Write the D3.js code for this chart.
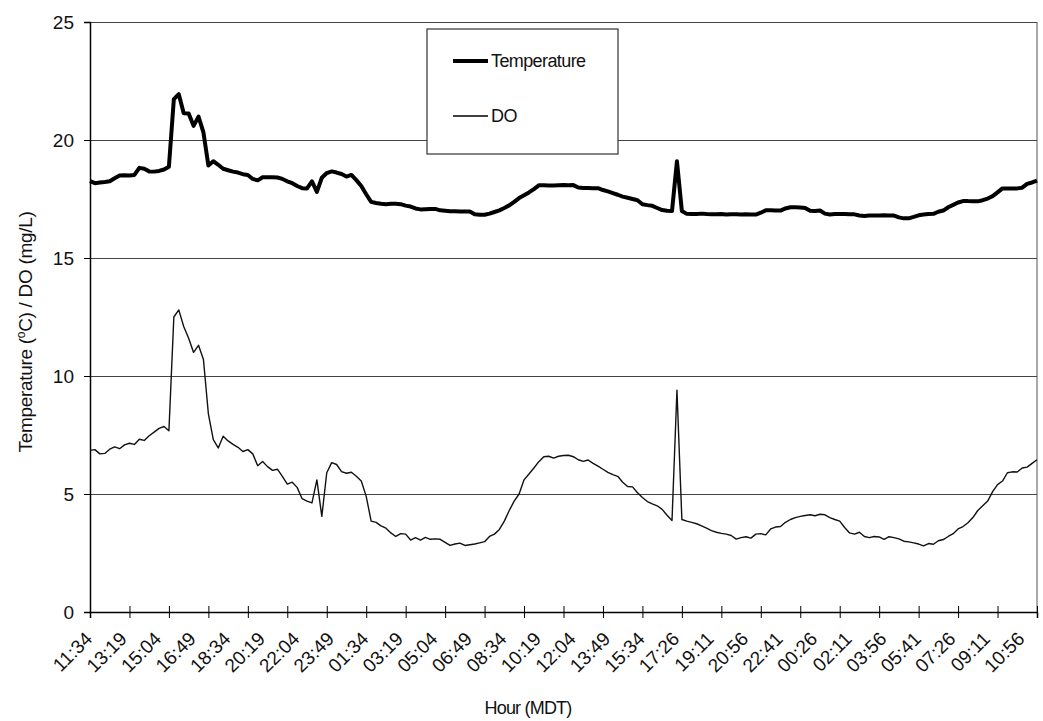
<!DOCTYPE html>
<html>
<head>
	<meta charset="utf-8">
	<title>Temperature / DO</title>
	<script type="text/javascript" src="https://cdn.jsdelivr.net/npm/d3@7"></script>
	<style>
		body { margin: 0; background: #fff; }
		text { font-family: "Liberation Sans", Arial, sans-serif; fill: #111; }
	</style>
</head>
<body>
	<script type="text/javascript">
		var width = 1043,
			height = 721;

		// tick labels, one every 7 readings
		var hourLabels = ['11:34','13:19','15:04','16:49','18:34','20:19','22:04','23:49','01:34','03:19',
			'05:04','06:49','08:34','10:19','12:04','13:49','15:34','17:26','19:11','20:56',
			'22:41','00:26','02:11','03:56','05:41','07:26','09:11','10:56'];
		var yTicks = [0, 5, 10, 15, 20, 25];

		var temperature = [
			18.26,18.17,18.2,18.22,18.25,18.38,18.5,18.51,18.5,18.52,
			18.82,18.78,18.67,18.66,18.69,18.75,18.87,21.73,21.94,21.13,
			21.12,20.6,20.99,20.32,18.92,19.1,18.95,18.78,18.72,18.66,
			18.62,18.55,18.52,18.35,18.29,18.42,18.42,18.42,18.41,18.35,
			18.25,18.17,18.05,17.96,17.95,18.25,17.8,18.4,18.6,18.67,
			18.62,18.56,18.45,18.52,18.3,18.05,17.7,17.38,17.33,17.3,
			17.28,17.3,17.3,17.28,17.22,17.18,17.1,17.06,17.07,17.08,
			17.08,17.02,17.0,16.98,16.98,16.97,16.97,16.97,16.85,16.83,
			16.83,16.88,16.95,17.02,17.12,17.23,17.38,17.54,17.66,17.78,
			17.92,18.08,18.08,18.07,18.07,18.08,18.09,18.08,18.09,17.99,
			17.97,17.97,17.96,17.96,17.88,17.82,17.75,17.68,17.6,17.55,
			17.5,17.45,17.28,17.24,17.21,17.12,17.03,17.0,16.99,19.1,
			16.99,16.87,16.86,16.86,16.88,16.86,16.85,16.85,16.86,16.84,
			16.85,16.85,16.84,16.85,16.84,16.84,16.92,17.02,17.02,17.01,
			17.01,17.1,17.15,17.15,17.14,17.12,17.0,16.99,17.01,16.88,
			16.84,16.86,16.86,16.86,16.85,16.85,16.8,16.78,16.8,16.8,
			16.8,16.81,16.8,16.8,16.72,16.68,16.68,16.74,16.81,16.84,
			16.86,16.87,16.96,17.01,17.15,17.25,17.35,17.41,17.41,17.4,
			17.4,17.45,17.52,17.62,17.78,17.95,17.95,17.95,17.95,17.98,
			18.14,18.2,18.28
		];

		var dissolvedOxygen = [
			6.85,6.88,6.7,6.72,6.9,7.0,6.92,7.08,7.15,7.1,
			7.32,7.27,7.47,7.62,7.78,7.86,7.68,12.5,12.8,12.1,
			11.6,11.0,11.3,10.7,8.4,7.3,6.95,7.45,7.25,7.1,
			6.98,6.8,6.88,6.7,6.2,6.38,6.16,6.0,6.05,5.75,
			5.42,5.5,5.28,4.8,4.7,4.62,5.6,4.05,5.9,6.33,
			6.25,5.95,5.88,5.92,5.75,5.55,4.9,3.85,3.8,3.65,
			3.55,3.35,3.2,3.32,3.3,3.05,3.15,3.05,3.16,3.08,
			3.1,3.08,2.95,2.82,2.88,2.92,2.82,2.85,2.88,2.93,
			2.98,3.2,3.3,3.5,3.85,4.3,4.7,5.0,5.6,5.85,
			6.1,6.37,6.58,6.6,6.52,6.6,6.63,6.64,6.58,6.45,
			6.38,6.44,6.3,6.18,6.05,5.92,5.82,5.75,5.5,5.32,
			5.3,5.05,4.85,4.68,4.58,4.5,4.35,4.1,3.88,9.4,
			3.92,3.85,3.8,3.74,3.65,3.55,3.45,3.38,3.33,3.3,
			3.24,3.09,3.15,3.19,3.13,3.3,3.32,3.27,3.52,3.6,
			3.62,3.8,3.92,4.0,4.05,4.09,4.12,4.08,4.14,4.12,
			4.0,3.92,3.85,3.58,3.35,3.3,3.38,3.2,3.15,3.2,
			3.18,3.08,3.19,3.15,3.1,3.0,2.97,2.93,2.88,2.8,
			2.9,2.87,3.02,3.07,3.2,3.32,3.52,3.62,3.78,4.0,
			4.3,4.5,4.7,5.1,5.4,5.55,5.9,5.94,5.93,6.1,
			6.14,6.3,6.45
		];

		var padding = {top : 22, right : 6, bottom : 109, left : 90};
		var plotW = width - padding.left - padding.right,
			plotH = height - padding.top - padding.bottom;
		var last = temperature.length - 1;

		var svg = d3.select('body')
					.append('svg')
					.attr('width' , width)
					.attr('height' , height);
		var g = svg.append('g')
					.attr('transform' , 'translate(' + padding.left + ',' + padding.top + ')');

		var x = d3.scaleLinear().domain([0 , last]).range([0 , plotW]);
		var y = d3.scaleLinear().domain([0 , 25]).range([plotH , 0]);

		// gridlines
		g.append('g')
			.call(d3.axisLeft(y).tickValues(yTicks.slice(1)).tickSize(-plotW).tickFormat(''))
			.call(function(s){ s.select('.domain').remove(); })
			.selectAll('line')
			.attr('stroke' , '#444')
			.attr('stroke-width' , 1);

		// right edge of plot
		g.append('line')
			.attr('x1' , plotW).attr('x2' , plotW)
			.attr('y1' , 0).attr('y2' , plotH)
			.attr('stroke' , '#555')
			.attr('stroke-width' , 1);

		// y axis
		var yAxis = g.append('g')
			.call(d3.axisLeft(y).tickValues(yTicks).tickSize(6).tickPadding(10));
		yAxis.select('.domain').attr('stroke' , '#000').attr('stroke-width' , 1.5);
		yAxis.selectAll('line').attr('stroke' , '#000');
		yAxis.selectAll('text').attr('font-size' , 19).attr('font-family' , '"Liberation Sans", Arial, sans-serif');

		// x axis, tick marks every 8 readings
		var xAxis = g.append('g')
			.attr('transform' , 'translate(0,' + plotH + ')')
			.call(d3.axisBottom(x).tickValues(d3.range(0 , last + 1 , 8)).tickFormat(''));
		xAxis.select('.domain').attr('stroke' , '#000').attr('stroke-width' , 1.5);
		xAxis.selectAll('.tick line')
			.attr('y1' , -6).attr('y2' , 6)
			.attr('stroke' , '#000');

		// x labels, every 7 readings
		var labelAxis = g.append('g')
			.attr('transform' , 'translate(0,' + plotH + ')')
			.call(d3.axisBottom(x)
				.tickValues(hourLabels.map(function(d , i){ return i * 7; }))
				.tickSize(0)
				.tickFormat(function(d){ return hourLabels[d / 7]; }));
		labelAxis.select('.domain').remove();
		labelAxis.selectAll('text')
			.attr('font-size' , 19)
			.attr('font-family' , '"Liberation Sans", Arial, sans-serif')
			.attr('text-anchor' , 'end')
			.attr('dy' , 0)
			.attr('y' , 0)
			.attr('transform' , 'translate(3,28) rotate(-45)');

		// lines
		var line = d3.line()
					.x(function(d , i){ return x(i); })
					.y(function(d){ return y(d); });

		g.append('path')
			.datum(dissolvedOxygen)
			.attr('fill' , 'none')
			.attr('stroke' , '#111')
			.attr('stroke-width' , 1.4)
			.attr('stroke-linejoin' , 'round')
			.attr('d' , line);

		g.append('path')
			.datum(temperature)
			.attr('fill' , 'none')
			.attr('stroke' , '#000')
			.attr('stroke-width' , 4)
			.attr('stroke-linejoin' , 'round')
			.attr('d' , line);

		// legend
		var legend = svg.append('g').attr('transform' , 'translate(427,29)');
		legend.append('rect')
			.attr('width' , 191).attr('height' , 125)
			.attr('fill' , '#fff')
			.attr('stroke' , '#333')
			.attr('stroke-width' , 1.2);
		var items = [
			{name : 'Temperature' , w : 4 , y : 32},
			{name : 'DO' , w : 1.4 , y : 87}
		];
		items.forEach(function(it){
			legend.append('line')
				.attr('x1' , 26).attr('x2' , 61)
				.attr('y1' , it.y).attr('y2' , it.y)
				.attr('stroke' , '#000')
				.attr('stroke-width' , it.w);
			legend.append('text')
				.attr('x' , 64).attr('y' , it.y + 6)
				.attr('font-size' , 18)
				.attr('letter-spacing' , -0.6)
				.text(it.name);
		});

		// axis titles
		svg.append('text')
			.attr('x' , 528).attr('y' , 714)
			.attr('text-anchor' , 'middle')
			.attr('font-size' , 18)
			.attr('letter-spacing' , -0.8)
			.text('Hour (MDT)');

		var yTitle = svg.append('text')
			.attr('transform' , 'translate(32,332) rotate(-90)')
			.attr('text-anchor' , 'middle')
			.attr('font-size' , 19)
			.attr('letter-spacing' , -0.3);
		yTitle.append('tspan').text('Temperature (');
		yTitle.append('tspan').attr('dy' , -7).attr('font-size' , 12).text('o');
		yTitle.append('tspan').attr('dy' , 7).text('C) / DO (mg/L)');
	</script>
</body>
</html>
